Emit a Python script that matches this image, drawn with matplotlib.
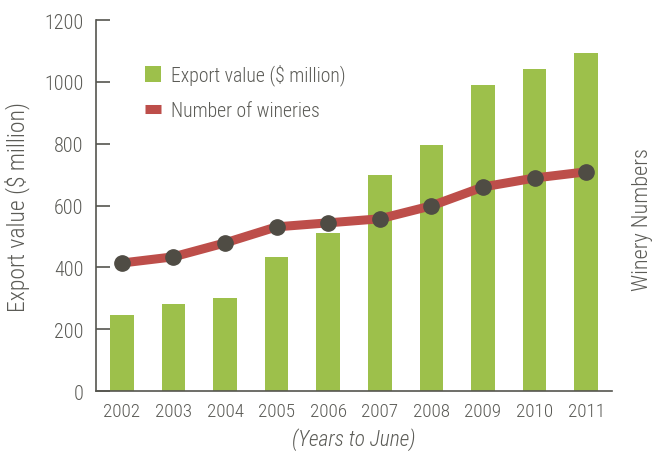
import matplotlib
matplotlib.use("Agg")
import matplotlib.pyplot as plt
from matplotlib.lines import Line2D
from matplotlib.patches import Patch

years = ["2002", "2003", "2004", "2005", "2006", "2007", "2008", "2009", "2010", "2011"]
export_value = [246, 281, 301, 434, 511, 699, 796, 990, 1042, 1094]
wineries = [414, 434, 479, 531, 544, 557, 599, 660, 689, 709]
yticks = [0, 200, 400, 600, 800, 1000, 1200]

GREEN = "#9dc04b"
RED = "#bd4e4a"
DOT = "#4f4c44"
TEXT = "#5b5b56"
AXIS = "#55554f"

plt.rcParams["font.family"] = ["Roboto Condensed", "Liberation Sans Narrow", "Roboto", "DejaVu Sans"]

fig = plt.figure(figsize=(6.54, 4.52), dpi=100)
ax = fig.add_axes([0.1468, 0.1327, 0.789, 0.8208])

x = list(range(len(years)))
ax.bar(x, export_value, width=0.46, color=GREEN, zorder=2)
ax.plot(x, wineries, color=RED, lw=6.5, solid_capstyle="butt", zorder=3)
ax.plot(x, wineries, linestyle="none", marker="o", ms=11, color=DOT, zorder=4)

ax.set_xlim(-0.5, 9.5)
ax.set_ylim(0, 1200)
ax.set_yticks(yticks)
ax.set_xticks(x)
ax.set_xticklabels(years)

for s in ("top", "right"):
    ax.spines[s].set_visible(False)
for s in ("left", "bottom"):
    ax.spines[s].set_color(AXIS)
    ax.spines[s].set_linewidth(1.2)

ax.tick_params(axis="y", direction="in", length=10, width=1.2, color=AXIS,
               labelsize=14.5, labelcolor=TEXT, pad=9)
ax.tick_params(axis="x", length=0, labelsize=13.8, labelcolor=TEXT, pad=8)
for lbl in ax.get_xticklabels() + ax.get_yticklabels():
    lbl.set_fontweight("light")

ax.set_ylabel("Export value ($ million)", fontsize=17, color=TEXT,
              fontweight="light", labelpad=10)
ax.set_xlabel("(Years to June)", fontsize=15.5, color=TEXT, style="italic",
              fontweight="light", labelpad=5)
fig.text(0.982, 0.515, "Winery Numbers", rotation=90, fontsize=16, color=TEXT,
         fontweight="light", ha="center", va="center")

handles = [Patch(facecolor=GREEN, edgecolor="none"),
           Line2D([0], [0], color=RED, lw=6.5, solid_capstyle="butt")]
leg = ax.legend(handles, ["Export value ($ million)", "Number of wineries"],
                loc="upper left", bbox_to_anchor=(0.06, 0.93), frameon=False,
                prop={"size": 14.2, "weight": "light"}, labelcolor=TEXT,
                handlelength=0.85, handleheight=0.9,
                handletextpad=0.5, labelspacing=0.8)

fig.savefig("out.png", dpi=100)
